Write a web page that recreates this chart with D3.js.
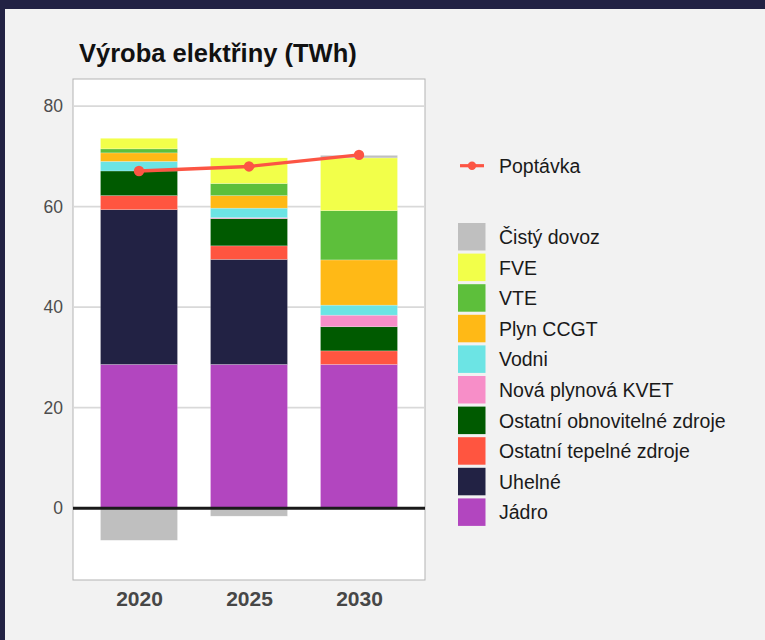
<!DOCTYPE html>
<html>
<head>
<meta charset="utf-8">
<script src="https://cdn.jsdelivr.net/npm/d3@7"></script>
<style>
  body { margin: 0; padding: 0; background: #222244; }
  svg { display: block; font-family: "Liberation Sans", Arial, sans-serif; }
</style>
</head>
<body>
<script>
// data, TWh
var years = ["2020", "2025", "2030"];
var jadro = [28.6, 28.6, 28.6];
var uhelne = [30.8, 20.9, 0];
var ostTepelne = [2.8, 2.7, 2.7];
var ostObnov = [4.9, 5.4, 4.8];
var novaKvet = [0, 0.2, 2.3];
var vodni = [1.9, 1.9, 2.0];
var plyn = [1.7, 2.5, 9.0];
var vte = [0.8, 2.4, 9.8];
var fve = [2.1, 5.1, 10.5];
var dovoz = [-6.4, -1.6, 0.5];
var poptavka = [67.1, 68.0, 70.3];
var yTicks = [0, 20, 40, 60, 80];

// bottom -> top
var series = [
    { key: "Jádro", values: jadro, color: "#b246bf" },
    { key: "Uhelné", values: uhelne, color: "#222244" },
    { key: "Ostatní tepelné zdroje", values: ostTepelne, color: "#ff5540" },
    { key: "Ostatní obnovitelné zdroje", values: ostObnov, color: "#005a00" },
    { key: "Nová plynová KVET", values: novaKvet, color: "#f78ec8" },
    { key: "Vodni", values: vodni, color: "#6ce4e4" },
    { key: "Plyn CCGT", values: plyn, color: "#ffb916" },
    { key: "VTE", values: vte, color: "#5dbf3b" },
    { key: "FVE", values: fve, color: "#f2ff4a" },
    { key: "Čistý dovoz", values: dovoz, color: "#bfbfbf" }
];

var w = 765;
var h = 640;
var panel = { left: 73, right: 425, top: 79, bottom: 580 };

var svg = d3.select("body")
    .append("svg")
    .attr("width", w)
    .attr("height", h);

// page background
svg.append("rect")
    .attr("width", w).attr("height", h)
    .attr("fill", "#222244");
svg.append("rect")
    .attr("x", 5).attr("y", 9)
    .attr("width", w - 5).attr("height", h - 9)
    .attr("fill", "#f2f2f2");

// table for the stack
var table = years.map(function(yr, i) {
    var row = { year: yr };
    series.forEach(function(s) { row[s.key] = s.values[i]; });
    return row;
});

var stack = d3.stack()
    .keys(series.map(function(s) { return s.key; }))
    .offset(d3.stackOffsetDiverging);
var stacked = stack(table);

// x: 3 categories, 0.6 unit padding on each side, bar width 0.7
var unit = (panel.right - panel.left) / 3.2;
var x = d3.scalePoint()
    .domain(years)
    .range([panel.left + 0.6 * unit, panel.right - 0.6 * unit]);
var barW = 0.7 * unit;

var y = d3.scaleLinear()
    .domain([-14.3, 85.4])
    .range([panel.bottom, panel.top]);

// panel
svg.append("rect")
    .attr("x", panel.left).attr("y", panel.top)
    .attr("width", panel.right - panel.left)
    .attr("height", panel.bottom - panel.top)
    .attr("fill", "white")
    .attr("stroke", "#b3b3b3")
    .attr("stroke-width", 1);

// grid
svg.append("g")
    .selectAll("line")
    .data(yTicks)
    .enter()
    .append("line")
    .attr("x1", panel.left + 0.5).attr("x2", panel.right - 0.5)
    .attr("y1", function(d) { return y(d); })
    .attr("y2", function(d) { return y(d); })
    .attr("stroke", "#d9d9d9")
    .attr("stroke-width", 1.6);

// y axis labels
var yAxis = d3.axisLeft(y).tickValues(yTicks).tickSize(0).tickPadding(10);
var gy = svg.append("g")
    .attr("transform", "translate(" + panel.left + ",0)")
    .call(yAxis);
gy.select(".domain").remove();
gy.selectAll("text")
    .attr("font-size", 17.5)
    .attr("fill", "#4d4d4d")
    .attr("font-family", "Liberation Sans, Arial, sans-serif");

// bars
svg.append("g")
    .selectAll("g")
    .data(stacked)
    .enter()
    .append("g")
    .attr("fill", function(d, i) { return series[i].color; })
    .selectAll("rect")
    .data(function(d) { return d; })
    .enter()
    .append("rect")
    .attr("x", function(d) { return x(d.data.year) - barW / 2; })
    .attr("y", function(d) { return y(Math.max(d[0], d[1])); })
    .attr("width", barW)
    .attr("height", function(d) { return Math.abs(y(d[0]) - y(d[1])); })
    .attr("stroke", "#ffffff")
    .attr("stroke-opacity", 0.35)
    .attr("stroke-width", 0.6);

// zero line
svg.append("line")
    .attr("x1", panel.left).attr("x2", panel.right)
    .attr("y1", y(0)).attr("y2", y(0))
    .attr("stroke", "#1a1a1a")
    .attr("stroke-width", 3);

// demand line
var line = d3.line()
    .x(function(d, i) { return x(years[i]); })
    .y(function(d) { return y(d); });

svg.append("path")
    .datum(poptavka)
    .attr("d", line)
    .attr("fill", "none")
    .attr("stroke", "#fc5544")
    .attr("stroke-width", 3.4);

svg.append("g")
    .selectAll("circle")
    .data(poptavka)
    .enter()
    .append("circle")
    .attr("cx", function(d, i) { return x(years[i]); })
    .attr("cy", function(d) { return y(d); })
    .attr("r", 5.2)
    .attr("fill", "#fc5544");

// x axis labels
var xAxis = d3.axisBottom(x).tickSize(0).tickPadding(0);
var gx = svg.append("g")
    .attr("transform", "translate(0," + panel.bottom + ")")
    .call(xAxis);
gx.select(".domain").remove();
gx.selectAll("text")
    .attr("y", 26)
    .attr("dy", 0)
    .attr("font-size", 21)
    .attr("font-weight", "bold")
    .attr("fill", "#474747")
    .attr("font-family", "Liberation Sans, Arial, sans-serif");

// title
svg.append("text")
    .attr("x", 79)
    .attr("y", 62)
    .attr("font-size", 25.5)
    .attr("font-weight", "bold")
    .attr("fill", "#111")
    .text("Výroba elektřiny (TWh)");

// legend: demand
var lg = svg.append("g");
lg.append("line")
    .attr("x1", 460).attr("x2", 484)
    .attr("y1", 165.7).attr("y2", 165.7)
    .attr("stroke", "#fc5544")
    .attr("stroke-width", 3.2);
lg.append("circle")
    .attr("cx", 472).attr("cy", 165.7).attr("r", 4.2)
    .attr("fill", "#fc5544");
lg.append("text")
    .attr("x", 499).attr("y", 173)
    .attr("font-size", 19.5)
    .attr("fill", "#1a1a1a")
    .text("Poptávka");

// legend: fills, top -> bottom
var legendItems = series.slice().reverse();
var step = 30.6;
var items = lg.selectAll("g.item")
    .data(legendItems)
    .enter()
    .append("g")
    .attr("class", "item")
    .attr("transform", function(d, i) { return "translate(458," + (223 + i * step) + ")"; });

items.append("rect")
    .attr("width", 27.5)
    .attr("height", 27.5)
    .attr("fill", function(d) { return d.color; });

items.append("text")
    .attr("x", 41)
    .attr("y", 21)
    .attr("font-size", 19.5)
    .attr("fill", "#1a1a1a")
    .text(function(d) { return d.key; });
</script>
</body>
</html>
